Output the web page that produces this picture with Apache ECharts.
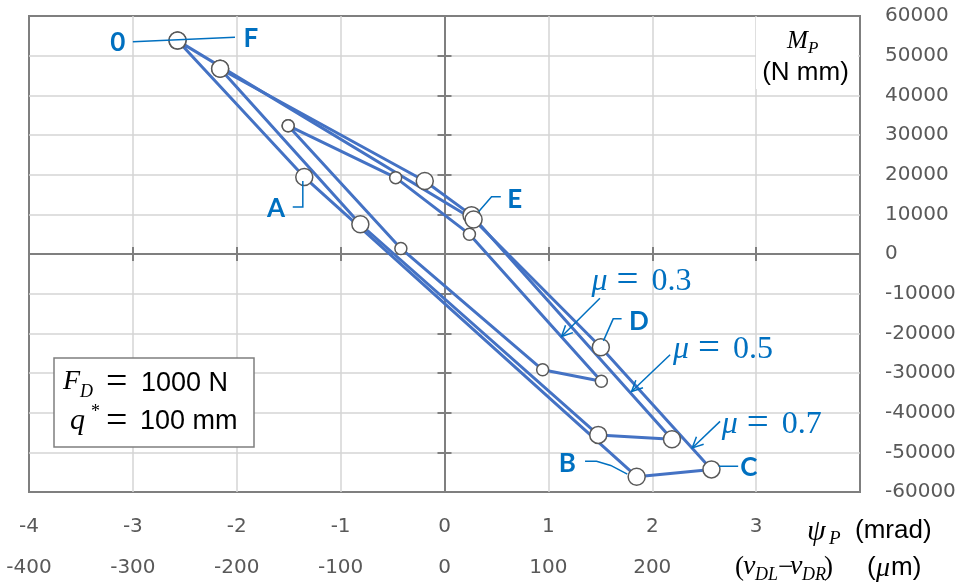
<!DOCTYPE html>
<html><head><meta charset="utf-8">
<script src="https://cdn.jsdelivr.net/npm/echarts@6/dist/echarts.min.js"></script>
<style>html,body{margin:0;padding:0;background:#fff}#c{width:968px;height:585px}</style>
</head><body><div id="c"></div>
<script>
// ---------------- data ----------------
const xTickLabelsMrad = [-4, -3, -2, -1, 0, 1, 2, 3];
const xTickLabelsUm = [-400, -300, -200, -100, 0, 100, 200];
const yTickLabels = [-60000, -50000, -40000, -30000, -20000, -10000, 0, 10000, 20000, 30000, 40000, 50000, 60000];

const seriesNames = ['μ = 0.7', 'μ = 0.5', 'μ = 0.3'];
// psi_P (mrad) and M_P (N mm)
const psiMu07 = [-2.57, -1.35, 1.85, 2.57, 1.505, 0.28, -2.57];
const mpMu07  = [53800, 19400, -56150, -54300, -23500, 8700, 53800];
const psiMu05 = [-2.16, -0.81, 1.48, 2.19, 0.26, -0.19, -2.16];
const mpMu05  = [46700, 7500, -45600, -46700, 9800, 18400, 46700];
const psiMu03 = [-1.505, -0.42, 0.945, 1.51, 0.24, -0.47, -1.505];
const mpMu03  = [32350, 1400, -29200, -32100, 5000, 19250, 32350];

// point labels (text, anchor in data space)
const pointLabelText = ['0', 'F', 'A', 'B', 'C', 'D', 'E'];
const pointLabelPsi  = [-3.146, -1.865, -1.623, 1.183, 2.93, 1.871, 0.677];
const pointLabelMp   = [53200, 54350, 11320, -52790, -53840, -17110, 13590];

// ---------------- chart ----------------
const zip = (a, b) => a.map((v, i) => [v, b[i]]);
const BLUE = '#4472C4', ANN = '#0070C0', GRID = '#D4D4D4', AX = '#7F7F7F', LAB = '#595959';

function lineSeries(name, xs, ys, size) {
  return {
    name, type: 'line', xAxisIndex: 0, yAxisIndex: 0,
    data: zip(xs, ys),
    symbol: 'circle', symbolSize: size, showSymbol: true,
    lineStyle: { color: BLUE, width: 3 },
    itemStyle: { color: '#ffffff', borderColor: '#595959', borderWidth: 1.5 },
    emphasis: { disabled: true }, silent: true, z: 3
  };
}

const labStyle = { fontSize: 20, fontFamily: 'DejaVu Sans', color: LAB };

const option = {
  animation: false,
  backgroundColor: '#ffffff',
  grid: { left: 29, right: 108, top: 16, bottom: 93, show: true, borderColor: AX, borderWidth: 2, backgroundColor: 'transparent' },
  xAxis: [
    { type: 'value', min: -4, max: 4, interval: 1, position: 'bottom',
      axisLine: { show: false, onZero: false }, axisTick: { show: false },
      splitLine: { show: true, showMinLine: false, showMaxLine: false, lineStyle: { color: GRID, width: 1.5 } },
      axisLabel: Object.assign({ margin: 25, showMinLabel: true, showMaxLabel: true,
        formatter: v => xTickLabelsMrad.includes(v) ? String(v) : '' }, labStyle) },
    { type: 'value', min: -400, max: 400, interval: 100, position: 'bottom', offset: 41,
      axisLine: { show: false, onZero: false }, axisTick: { show: false }, splitLine: { show: false },
      axisLabel: Object.assign({ margin: 25, showMinLabel: true, showMaxLabel: true,
        formatter: v => xTickLabelsUm.includes(v) ? String(v) : '' }, labStyle) },
    { type: 'value', min: -4, max: 4, interval: 1, position: 'bottom',
      axisLine: { show: true, onZero: true, onZeroAxisIndex: 0, lineStyle: { color: AX, width: 2 } },
      axisTick: { show: true, length: 7, inside: false, lineStyle: { color: AX, width: 2 } },
      axisLabel: { show: false }, splitLine: { show: false } },
    { type: 'value', min: -4, max: 4, interval: 1, position: 'bottom',
      axisLine: { show: true, onZero: true, onZeroAxisIndex: 0, lineStyle: { color: AX, width: 2 } },
      axisTick: { show: true, length: 7, inside: true, lineStyle: { color: AX, width: 2 } },
      axisLabel: { show: false }, splitLine: { show: false } }
  ],
  yAxis: [
    { type: 'value', min: -60000, max: 60000, interval: 10000, position: 'right',
      axisLine: { show: false, onZero: false }, axisTick: { show: false },
      splitLine: { show: true, showMinLine: false, showMaxLine: false, lineStyle: { color: GRID, width: 1.5 } },
      axisLabel: Object.assign({ margin: 25, align: 'left', showMinLabel: true, showMaxLabel: true,
        formatter: v => yTickLabels.includes(v) ? String(v) : '' }, labStyle) },
    { type: 'value', min: -60000, max: 60000, interval: 10000, position: 'left',
      axisLine: { show: true, onZero: true, onZeroAxisIndex: 0, lineStyle: { color: AX, width: 2 } },
      axisTick: { show: true, length: 7, inside: false, lineStyle: { color: AX, width: 2 } },
      axisLabel: { show: false }, splitLine: { show: false } },
    { type: 'value', min: -60000, max: 60000, interval: 10000, position: 'left',
      axisLine: { show: true, onZero: true, onZeroAxisIndex: 0, lineStyle: { color: AX, width: 2 } },
      axisTick: { show: true, length: 7, inside: true, lineStyle: { color: AX, width: 2 } },
      axisLabel: { show: false }, splitLine: { show: false } }
  ],
  series: [
    lineSeries(seriesNames[2], psiMu03, mpMu03, 12),
    lineSeries(seriesNames[1], psiMu05, mpMu05, 17),
    lineSeries(seriesNames[0], psiMu07, mpMu07, 17)
  ]
};

const chart = echarts.init(document.getElementById('c'), null, { renderer: 'canvas' });
chart.setOption(option);

// ---------------- annotations ----------------
const toPx = p => chart.convertToPixel({ xAxisIndex: 0, yAxisIndex: 0 }, p);
function txt(x, y, text, o) {
  const st = Object.assign({ text, fill: '#000', fontSize: 20, fontFamily: 'Liberation Sans',
    align: 'left', verticalAlign: 'middle' }, o || {});
  st.textAlign = st.align; st.textVerticalAlign = st.verticalAlign;
  return { type: 'text', x, y, z: 20, silent: true, style: st };
}
function pline(ptsData, color, w) {
  return { type: 'polyline', z: 19, silent: true, shape: { points: ptsData.map(toPx) },
    style: { stroke: color, lineWidth: w, fill: null } };
}
function arrow(from, to) {
  const a = toPx(from), b = toPx(to);
  const ang = Math.atan2(a[1] - b[1], a[0] - b[0]);
  const L = 12, s = 0.45;
  const h1 = [b[0] + L * Math.cos(ang + s), b[1] + L * Math.sin(ang + s)];
  const h2 = [b[0] + L * Math.cos(ang - s), b[1] + L * Math.sin(ang - s)];
  return [
    { type: 'polyline', z: 19, silent: true, shape: { points: [a, b] }, style: { stroke: ANN, lineWidth: 1.5, fill: null } },
    { type: 'polyline', z: 19, silent: true, shape: { points: [h1, b, h2] }, style: { stroke: ANN, lineWidth: 1.5, fill: null } }
  ];
}
function muLabel(anchor, val) {
  const p = toPx(anchor);
  const serif = { fontFamily: 'Liberation Serif', fontSize: 32, fill: ANN };
  return [
    txt(p[0], p[1], 'μ', Object.assign({}, serif, { fontStyle: 'italic' })),
    txt(p[0] + 25, p[1], '=', Object.assign({}, serif, { fontSize: 39 })),
    txt(p[0] + 60, p[1], val, serif)
  ];
}

const g = [];
// white box behind y-axis title
g.push({ type: 'rect', z: 15, silent: true, shape: { x: 756, y: 17, width: 102, height: 72 }, style: { fill: '#fff' } });
// parameter box
g.push({ type: 'rect', z: 15, silent: true, shape: { x: 54, y: 358, width: 200, height: 89 }, style: { fill: '#fff', stroke: '#7F7F7F', lineWidth: 1.5 } });

const serifIt = { fontFamily: 'Liberation Serif', fontStyle: 'italic' };
// parameter box text
g.push(txt(63, 382, 'F', Object.assign({ fontSize: 28 }, serifIt)));
g.push(txt(80, 392, 'D', Object.assign({ fontSize: 18 }, serifIt)));
g.push(txt(106, 383, '=', { fontFamily: 'Liberation Serif', fontSize: 38 }));
g.push(txt(141, 384, '1000 N', { fontSize: 27 }));
g.push(txt(70, 421, 'q', Object.assign({ fontSize: 30 }, serifIt)));
g.push(txt(91, 412, '*', { fontFamily: 'Liberation Serif', fontSize: 18 }));
g.push(txt(106, 422, '=', { fontFamily: 'Liberation Serif', fontSize: 38 }));
g.push(txt(140, 422, '100 mm', { fontSize: 27 }));

// y-axis title
g.push(txt(787, 41, 'M', Object.assign({ fontSize: 25 }, serifIt)));
g.push(txt(808, 49, 'P', Object.assign({ fontSize: 17 }, serifIt)));
g.push(txt(805.5, 73, '(N mm)', { fontSize: 26, align: 'center' }));

// x-axis titles
g.push(txt(807, 532, 'ψ', Object.assign({ fontSize: 30 }, serifIt)));
g.push(txt(829, 539, 'P', Object.assign({ fontSize: 19 }, serifIt)));
g.push(txt(855, 531, '(mrad)', { fontSize: 26 }));

g.push(txt(735, 568, '(', { fontFamily: 'Liberation Serif', fontSize: 27 }));
g.push(txt(743, 567, 'v', Object.assign({ fontSize: 28 }, serifIt)));
g.push(txt(755, 575, 'DL', Object.assign({ fontSize: 18 }, serifIt)));
g.push(txt(778, 568, '−', { fontFamily: 'Liberation Serif', fontSize: 27 }));
g.push(txt(790, 567, 'v', Object.assign({ fontSize: 28 }, serifIt)));
g.push(txt(802, 575, 'DR', Object.assign({ fontSize: 18 }, serifIt)));
g.push(txt(824, 568, ')', { fontFamily: 'Liberation Serif', fontSize: 27 }));
g.push(txt(867, 568, '(', { fontSize: 26 }));
g.push(txt(876, 569, 'μ', Object.assign({ fontSize: 28 }, serifIt)));
g.push(txt(891, 568, 'm)', { fontSize: 26 }));

// leader lines
g.push(pline([[-3.00, 53500], [-2.017, 54670]], ANN, 1.5));
g.push(pline([[-1.461, 11830], [-1.364, 11830], [-1.364, 18400]], ANN, 1.5));
g.push(pline([[0.542, 14420], [0.453, 14420], [0.33, 10700]], ANN, 1.5));
g.push(pline([[1.705, -16350], [1.624, -16350], [1.53, -21900]], ANN, 1.5));
g.push(pline([[1.353, -52260], [1.464, -52260], [1.60, -53300], [1.76, -55500]], ANN, 1.5));
g.push(pline([[2.64, -53510], [2.827, -53510]], ANN, 1.5));

// point labels
pointLabelText.forEach((t, i) => {
  const p = toPx([pointLabelPsi[i], pointLabelMp[i]]);
  g.push(txt(p[0], p[1], t, { fontFamily: 'Lato', fontWeight: 'bold', fontSize: 26, fill: ANN, align: 'center' }));
});

// arrows + mu labels
g.push(...arrow([1.496, -11150], [1.127, -20810]));
g.push(...arrow([2.172, -25410], [1.801, -34650]));
g.push(...arrow([2.653, -42190], [2.385, -48890]));
g.push(...muLabel([1.416, -6970], '0.3'));
g.push(...muLabel([2.199, -24150], '0.5'));
g.push(...muLabel([2.668, -43020], '0.7'));

chart.setOption({ graphic: { elements: g } });
</script></body></html>
